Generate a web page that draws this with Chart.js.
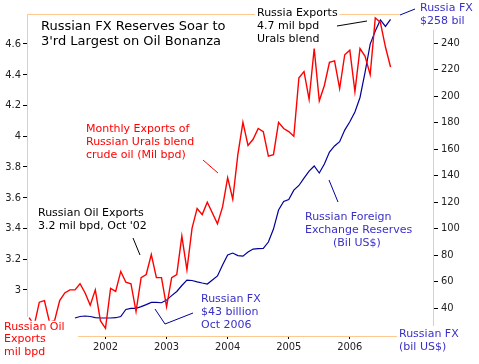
<!DOCTYPE html>
<html><head><meta charset="utf-8">
<script src="https://cdn.jsdelivr.net/npm/chart.js@4"></script>
<style>html,body{margin:0;padding:0;background:#fff}canvas{display:block}</style>
</head><body>
<canvas id="c" width="479" height="364"></canvas>
<script>
// Urals crude exports (mil bpd), monthly from Oct 2000; month index 0 = Jan 2002
const exportStart = -15;
const oilExports = [2.82,2.77,2.92,2.93,2.79,2.80,2.93,2.98,3.0,3.0,3.04,2.98,2.90,3.0,2.80,
  2.75,3.01,2.99,3.12,3.05,3.04,2.86,3.08,3.10,3.23,3.08,3.08,
  2.89,3.08,3.10,3.35,3.13,3.40,3.53,3.49,3.57,3.50,3.43,3.54,
  3.73,3.59,3.88,4.09,3.94,3.98,4.05,4.03,3.87,3.88,4.09,4.05,
  4.03,4.0,4.38,4.42,4.24,4.57,4.23,4.33,4.48,4.49,4.31,4.53,
  4.56,4.29,4.57,4.52,4.40,4.77,4.74,4.58,4.45];
// FX reserves (bil US$), monthly from Jul 2001
const fxStart = -6;
const fxReserves = [32.5,33.6,34,33.6,32.8,32.5,
  32.5,32.5,32.7,33.6,38.9,39.8,39.8,41.1,42.6,44.2,44.2,44,
  46,49.4,52.5,57,61.1,60.8,59.8,58.9,58.1,61.1,64.2,72.5,
  80,81.5,79.6,79.2,82.3,84.5,84.9,85,89.8,99.6,114,120.4,
  121.9,129,132.5,138.1,143.4,147.2,141.9,148.7,157.7,162.3,165.5,174.3,
  180.6,188,198.9,218.1,239.2,249,257.4,252.5,257.9];
const years = ["2002","2003","2004","2005","2006"];
const leftTicks = [3,3.2,3.4,3.6,3.8,4,4.2,4.4,4.6];
const rightTicks = [40,60,80,100,120,140,160,180,200,220,240];

const TICKFONT = "'DejaVu Sans Condensed','DejaVu Sans',sans-serif";
const FONT = "'DejaVu Sans',sans-serif";
const BLUE_TXT = "#3a30c8";

const pts = (start, arr) => arr.map((v,i)=>({x:start+i, y:v}));

// text notes and pointer lines
const notes = [
  {t:["Russian FX Reserves Soar to","3'rd Largest on Oil Bonanza"], x:41, y:27, lh:15, c:"#000", size:13},
  {t:["Monthly Exports of","Russian Urals blend","crude oil (Mil bpd)"], x:86, y:129, lh:13, c:"#ff0000"},
  {t:["Russian Oil Exports","3.2 mil bpd, Oct '02"], x:38, y:213, lh:13, c:"#000"},
  {t:["Russia Exports","4.7 mil bpd","Urals blend"], x:257, y:13, lh:13, c:"#000", bg:true},
  {t:["Russia FX","$258 bil"], x:420, y:8, lh:13, c:BLUE_TXT},
  {t:["Russian FX","$43 billion","Oct 2006"], x:201, y:299, lh:13, c:BLUE_TXT},
  {t:["Russian Foreign","Exchange Reserves","(Bil US$)"], x:[305,305,333], y:217, lh:13, c:BLUE_TXT},
  {t:["Russian Oil","Exports","mil bpd"], x:4, y:327, lh:12.5, c:"#ff0000", bg:true},
  {t:["Russian FX","(bil US$)"], x:399, y:334, lh:13, c:BLUE_TXT},
];
const pointers = [
  {c:"#000", p:[[133,238],[140,255]]},
  {c:"#000", p:[[337,26],[367,21]]},
  {c:"#000099", p:[[400,15],[415,9]]},
  {c:"#000099", p:[[155,309],[165,324],[193,313]]},
  {c:"#000099", p:[[329,180],[338,202]]},
  {c:"#ff0000", p:[[203,160],[218,173]]},
];

const frame = {
  id:"frame",
  beforeDatasetsDraw(c){
    const {ctx, chartArea:a} = c;
    ctx.save(); ctx.strokeStyle="#ffc890"; ctx.lineWidth=1;
    const seg=(x1,y1,x2,y2)=>{ctx.beginPath();ctx.moveTo(x1,y1);ctx.lineTo(x2,y2);ctx.stroke();};
    seg(a.left, a.top+.5, a.right-33, a.top+.5);
    seg(a.left+.5, a.top, a.left+.5, a.bottom-19);
    seg(a.right+.5, a.top+16, a.right+.5, a.bottom-10);
    seg(a.left+51, a.bottom+.5, a.right-36, a.bottom+.5);
    ctx.restore();
  },
  afterDatasetsDraw(c){
    const ctx=c.ctx;
    ctx.save();
    pointers.forEach(l=>{
      ctx.strokeStyle=l.c; ctx.lineWidth=1; ctx.beginPath();
      l.p.forEach((q,i)=> i?ctx.lineTo(q[0],q[1]):ctx.moveTo(q[0],q[1]));
      ctx.stroke();
    });
    ctx.textBaseline="middle"; ctx.textAlign="left";
    notes.forEach(n=>{
      ctx.font=(n.size||11)+"px "+FONT;
      n.t.forEach((s,i)=>{
        const x=Array.isArray(n.x)?n.x[i]:n.x, y=n.y+i*n.lh;
        if(n.bg){ const w=ctx.measureText(s).width; ctx.fillStyle="#fff"; ctx.fillRect(x-2,y-n.lh/2,w+4,n.lh); }
        ctx.fillStyle=n.c; ctx.fillText(s,x,y);
      });
    });
    ctx.restore();
  }
};

new Chart(document.getElementById("c"),{
  type:"line",
  data:{datasets:[
    {data:pts(exportStart,oilExports), yAxisID:"y", borderColor:"#ff0000", borderWidth:1.4, pointRadius:0, tension:0},
    {data:pts(fxStart,fxReserves), yAxisID:"y2", borderColor:"#000099", borderWidth:1.2, pointRadius:0, tension:0},
  ]},
  options:{
    responsive:false, devicePixelRatio:1, animation:false,
    layout:{padding:{top:14,left:0,right:0,bottom:0}},
    plugins:{legend:{display:false}, tooltip:{enabled:false}},
    scales:{
      x:{type:"linear", min:-15.42, max:64.34,
        afterBuildTicks:s=>{s.ticks=years.map((_,i)=>({value:i*12}));},
        afterFit:s=>{s.height=28;},
        ticks:{callback:(v)=>years[Math.round(v/12)], color:"#222", font:{family:TICKFONT,size:11}, padding:2, maxRotation:0, autoSkip:false},
        grid:{drawOnChartArea:false, drawTicks:true, tickLength:3, color:"#000"},
        border:{display:false}},
      y:{position:"left", min:2.7, max:4.795,
        afterBuildTicks:s=>{s.ticks=leftTicks.map(v=>({value:v}));},
        afterFit:s=>{s.width=27;},
        ticks:{callback:v=>String(Number(v.toFixed(1))), color:"#222", font:{family:TICKFONT,size:11}, padding:2},
        grid:{drawOnChartArea:false, drawTicks:true, tickLength:4, color:"#000"},
        border:{display:false}},
      y2:{position:"right", min:18.9, max:261.9,
        afterBuildTicks:s=>{s.ticks=rightTicks.map(v=>({value:v}));},
        afterFit:s=>{s.width=46;},
        ticks:{color:"#222", font:{family:TICKFONT,size:11}, padding:3},
        grid:{drawOnChartArea:false, drawTicks:true, tickLength:5, color:"#000"},
        border:{display:false}}
    }
  },
  plugins:[frame]
});
</script>
</body></html>
